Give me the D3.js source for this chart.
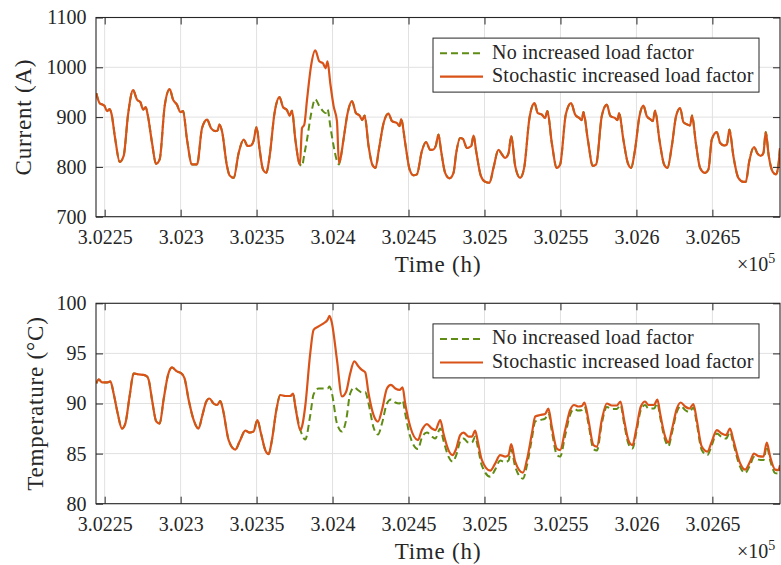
<!DOCTYPE html>
<html>
<head>
<meta charset="utf-8">
<script src="https://cdn.jsdelivr.net/npm/d3@7"></script>
<style>
  html, body { margin: 0; padding: 0; background: #fff; }
  svg { display: block; }
  svg text { font-family: "Liberation Serif", "DejaVu Serif", serif; }
</style>
</head>
<body>
<svg id="chart" width="781" height="565"></svg>
<script>
// ---- data: conductor current (A) over time (h) ----
const timeCurrent = [
  302244.5, 302246.7, 302249.8, 302251.6, 302253.3, 302254.4, 302257.0, 302259.9, 302262.5, 302265.4,
  302268.7, 302271.3, 302273.5, 302275.3, 302277.0, 302278.3, 302281.2, 302283.8, 302286.2, 302289.5,
  302292.8, 302295.0, 302297.6, 302299.8, 302301.6, 302304.2, 302307.5, 302310.8, 302314.1, 302317.4,
  302320.0, 302322.8, 302324.3, 302325.5, 302327.2, 302330.5, 302332.2, 302334.9, 302338.2, 302341.5,
  302344.1, 302346.3, 302348.0, 302350.0, 302352.0, 302354.2, 302356.4, 302358.6, 302361.8, 302365.1,
  302367.4, 302370.0, 302371.7, 302373.3, 302375.5, 302378.5, 302379.9, 302381.4, 302383.2, 302385.8,
  302388.6, 302391.3, 302393.7, 302395.4, 302396.7, 302398.5, 302400.7, 302402.9, 302404.2, 302405.1,
  302407.2, 302409.9, 302412.8, 302415.4, 302417.8, 302419.5, 302421.1, 302423.7, 302426.1, 302428.3,
  302430.5, 302433.6, 302436.8, 302439.1, 302442.4, 302444.1, 302445.2, 302447.8, 302450.7, 302453.3,
  302455.5, 302458.8, 302461.6, 302464.3, 302466.4, 302468.0, 302469.7, 302471.3, 302474.1, 302477.0,
  302479.6, 302481.4, 302484.0, 302485.8, 302488.4, 302491.3, 302492.8, 302494.5, 302497.6, 302500.5,
  302503.3, 302505.9, 302509.2, 302511.5, 302513.6, 302515.8, 302517.6, 302520.2, 302523.5, 302526.1,
  302529.6, 302532.9, 302535.1, 302537.8, 302539.9, 302541.4, 302544.3, 302547.6, 302549.8, 302553.5,
  302557.0, 302559.7, 302562.5, 302564.1, 302565.1, 302568.0, 302571.3, 302573.5, 302577.2, 302580.5,
  302582.9, 302586.0, 302587.5, 302588.6, 302591.4, 302594.3, 302596.5, 302599.1, 302602.0, 302604.6,
  302606.8, 302609.0, 302610.8, 302612.3, 302615.1, 302618.2, 302620.4, 302623.3, 302626.1, 302628.8,
  302630.9, 302633.6, 302635.3, 302636.6, 302639.1, 302641.9, 302645.2, 302647.4, 302649.6, 302652.9,
  302655.1, 302657.7, 302659.5, 302661.2, 302663.8, 302667.1, 302670.4, 302672.0, 302674.3, 302677.4,
  302679.6, 302681.8, 302683.6, 302685.1, 302687.1, 302689.7, 302691.9, 302693.4, 302694.5
];
const currentNoIncrease = [
  948, 928, 923, 912, 916, 908, 855, 810, 822, 905,
  954, 935, 930, 915, 920, 905, 848, 806, 815, 922,
  956, 935, 925, 910, 912, 855, 805, 805, 878, 895,
  878, 872, 873, 885, 872, 802, 783, 778, 828, 855,
  842, 843, 852, 880, 835, 795, 788, 822, 908, 940,
  920, 914, 903, 913, 855, 805, 802, 825, 855, 905,
  936, 922, 912, 908, 916, 882, 842, 812, 805, 815,
  855, 908, 932, 908, 903, 894, 903, 842, 805, 798,
  835, 888, 907, 892, 888, 882, 896, 848, 795, 783,
  785, 832, 850, 834, 835, 843, 865, 835, 788, 777,
  788, 828, 858, 856, 838, 842, 863, 832, 782, 770,
  768, 798, 834, 825, 818, 827, 862, 802, 778, 798,
  898, 928, 908, 905, 898, 912, 848, 798, 805, 905,
  928, 905, 898, 894, 910, 855, 802, 805, 902, 925,
  902, 898, 894, 908, 855, 808, 798, 835, 902, 923,
  902, 896, 892, 913, 855, 805, 798, 842, 902, 918,
  890, 885, 883, 903, 848, 798, 788, 795, 855, 870,
  848, 843, 845, 875, 822, 778, 770, 770, 812, 840,
  827, 822, 828, 870, 822, 790, 785, 802, 838
];
const currentStochastic = [
  948, 928, 923, 912, 916, 908, 855, 810, 822, 905,
  954, 935, 930, 915, 920, 905, 848, 806, 815, 922,
  956, 935, 925, 910, 912, 855, 805, 805, 878, 895,
  878, 872, 873, 885, 872, 802, 783, 778, 828, 855,
  842, 843, 852, 880, 835, 795, 788, 822, 908, 940,
  920, 914, 903, 913, 855, 805, 878, 885, 935, 1002,
  1034, 1012, 1008, 998, 1012, 968, 922, 892, 808, 815,
  855, 908, 932, 908, 903, 894, 903, 842, 805, 798,
  835, 888, 907, 892, 888, 882, 896, 848, 795, 783,
  785, 832, 850, 834, 835, 843, 865, 835, 788, 777,
  788, 828, 858, 856, 838, 842, 863, 832, 782, 770,
  768, 798, 834, 825, 818, 827, 862, 802, 778, 798,
  898, 928, 908, 905, 898, 912, 848, 798, 805, 905,
  928, 905, 898, 894, 910, 855, 802, 805, 902, 925,
  902, 898, 894, 908, 855, 808, 798, 835, 902, 923,
  902, 896, 892, 913, 855, 805, 798, 842, 902, 918,
  890, 885, 883, 903, 848, 798, 788, 795, 855, 870,
  848, 843, 845, 875, 822, 778, 770, 770, 812, 840,
  827, 822, 828, 870, 822, 790, 785, 802, 838
];

// ---- data: conductor temperature (°C) over time (h) ----
const timeTemperature = [
  302244.5, 302246.1, 302248.3, 302251.6, 302253.8, 302255.9, 302258.6, 302261.4, 302263.6, 302266.4,
  302269.1, 302272.4, 302275.7, 302277.9, 302279.0, 302281.2, 302284.0, 302286.2, 302288.8, 302291.7,
  302294.3, 302297.6, 302300.9, 302302.6, 302305.3, 302308.6, 302311.8, 302314.1, 302316.9, 302318.9,
  302321.7, 302324.0, 302326.1, 302327.9, 302331.6, 302336.0, 302338.8, 302342.6, 302345.4, 302348.0,
  302350.5, 302352.9, 302355.7, 302357.9, 302360.1, 302363.0, 302365.6, 302368.9, 302372.2, 302374.0,
  302375.5, 302378.8, 302379.9, 302382.0, 302385.3, 302387.5, 302390.8, 302394.1, 302396.7, 302398.0,
  302399.6, 302402.9, 302406.2, 302409.0, 302411.6, 302414.3, 302417.1, 302419.3, 302421.5, 302423.7,
  302427.0, 302429.9, 302432.5, 302435.8, 302438.4, 302441.3, 302444.1, 302446.1, 302447.8, 302451.1,
  302456.2, 302458.8, 302462.1, 302465.4, 302467.6, 302470.9, 302473.0, 302476.3, 302479.0, 302481.4,
  302484.0, 302486.2, 302489.5, 302491.7, 302493.9, 302495.4, 302498.3, 302503.8, 302507.0, 302510.3,
  302513.6, 302515.8, 302517.6, 302520.2, 302525.3, 302527.9, 302531.2, 302533.4, 302536.6, 302539.9,
  302542.1, 302544.3, 302547.6, 302549.8, 302553.1, 302556.4, 302559.0, 302561.8, 302564.1, 302565.8,
  302568.4, 302571.7, 302574.0, 302577.2, 302580.5, 302583.8, 302587.1, 302589.5, 302591.9, 302594.7,
  302597.4, 302599.8, 302602.9, 302605.7, 302607.9, 302611.6, 302613.8, 302615.6, 302618.9, 302621.1,
  302623.3, 302626.6, 302629.2, 302632.0, 302634.9, 302637.5, 302639.7, 302643.0, 302646.7, 302649.6,
  302652.9, 302656.2, 302659.0, 302661.6, 302663.8, 302667.8, 302671.5, 302674.8, 302677.4, 302680.3,
  302683.6, 302685.8, 302688.0, 302691.3, 302693.4, 302694.5
];
const tempNoIncrease = [
  92.0, 92.4, 92.1, 92.1, 92.2, 91.0, 89.0, 87.5, 88.0, 90.7,
  93.0, 92.9, 92.85, 92.7, 92.35, 90.35, 88.2, 88.0, 90.4, 92.85,
  93.6, 93.2, 92.95, 92.5, 90.35, 88.35, 87.5, 88.7, 90.2, 90.5,
  90.0, 89.85, 90.25, 89.35, 86.35, 85.4, 86.2, 87.3, 87.1, 87.2,
  88.35, 87.0, 85.35, 84.95, 86.35, 89.35, 90.85, 90.75, 90.75, 91.0,
  89.7, 87.35, 86.9, 86.4, 88.8, 90.9, 91.5, 91.5, 91.5, 91.7,
  91.0, 88.0, 87.2, 88.4, 91.0, 91.6, 91.3, 91.1, 91.15, 90.0,
  87.6, 86.9, 88.0, 90.0, 90.4, 90.1, 90.0, 90.3, 89.0, 86.7,
  85.45, 86.6, 87.1, 86.7, 86.5, 87.5, 86.3, 84.7, 84.2, 84.85,
  86.2, 86.5, 86.1, 86.1, 86.7, 85.8, 83.8, 82.7, 83.4, 84.3,
  84.15, 84.3, 85.4, 83.7, 82.5, 83.8, 86.5, 88.2, 88.35, 88.5,
  89.05, 87.25, 84.9, 84.7, 86.8, 88.9, 89.45, 89.3, 89.35, 89.7,
  88.0, 85.45, 85.3, 88.0, 89.65, 89.45, 89.45, 89.85, 88.0, 86.0,
  85.5, 87.0, 89.35, 89.85, 89.5, 89.5, 90.05, 88.65, 86.35, 85.75,
  87.0, 89.15, 89.75, 89.35, 89.15, 89.6, 88.0, 85.35, 84.85, 85.85,
  87.0, 86.65, 86.5, 87.15, 86.0, 83.85, 83.05, 83.85, 84.65, 84.4,
  84.35, 85.75, 84.35, 83.05, 83.0, 83.5
];
const tempStochastic = [
  92.0, 92.4, 92.1, 92.1, 92.2, 91.0, 89.0, 87.5, 88.0, 90.7,
  93.0, 92.9, 92.85, 92.7, 92.35, 90.35, 88.2, 88.0, 90.4, 92.85,
  93.6, 93.2, 92.95, 92.5, 90.35, 88.35, 87.5, 88.7, 90.2, 90.5,
  90.0, 89.85, 90.25, 89.35, 86.35, 85.4, 86.2, 87.3, 87.1, 87.2,
  88.35, 87.0, 85.35, 84.95, 86.35, 89.35, 90.85, 90.75, 90.75, 91.0,
  89.7, 87.35, 87.7, 89.7, 95.0, 97.35, 97.7, 98.0, 98.35, 98.75,
  98.0, 94.35, 90.7, 91.2, 93.0, 94.2, 93.7, 93.35, 93.1, 91.0,
  88.85, 88.2, 89.35, 91.5, 91.85, 91.5, 91.35, 91.6, 90.0, 87.7,
  86.35, 87.35, 87.95, 87.5, 87.35, 88.35, 87.0, 85.35, 84.85, 85.5,
  86.85, 87.1, 86.7, 86.7, 87.3, 86.35, 84.35, 83.3, 84.0, 84.85,
  84.7, 84.85, 85.95, 84.2, 83.1, 84.35, 87.0, 88.7, 88.85, 88.95,
  89.5, 87.7, 85.5, 85.35, 87.35, 89.35, 89.85, 89.7, 89.75, 90.1,
  88.35, 85.85, 85.7, 88.35, 90.0, 89.8, 89.8, 90.2, 88.35, 86.35,
  85.85, 87.35, 89.7, 90.2, 89.85, 89.85, 90.4, 89.0, 86.7, 86.1,
  87.35, 89.5, 90.1, 89.7, 89.5, 89.95, 88.35, 85.7, 85.2, 86.2,
  87.35, 87.0, 86.85, 87.5, 86.35, 84.2, 83.4, 84.2, 85.0, 84.75,
  84.7, 86.1, 84.7, 83.4, 83.35, 83.85
];

// ---- axis ticks and labels ----
const timeTicks = [302250, 302300, 302350, 302400, 302450, 302500, 302550, 302600, 302650];
const timeTickLabels = ["3.0225", "3.023", "3.0235", "3.024", "3.0245", "3.025", "3.0255", "3.026", "3.0265"];
const currentTicks = [700, 800, 900, 1000, 1100];
const tempTicks = [80, 85, 90, 95, 100];
const seriesNames = ["No increased load factor", "Stochastic increased load factor"];

const GREEN = "#5f8c14";
const ORANGE = "#D95319";
const INK = "#262626";
const GRID = "#e1e1e1";
const SERIF = "'Liberation Serif', 'DejaVu Serif', serif";

const svg = d3.select("#chart").attr("font-family", SERIF);
const defs = svg.append("defs");

const X0 = 96, X1 = 780;
const x = d3.scaleLinear().domain([302244.3, 302694.5]).range([X0, X1]);

function drawPanel(p) {
  const g = svg.append("g");
  const y = d3.scaleLinear().domain(p.domain).range([p.bottom, p.top]);

  // grid
  g.append("g").selectAll("line").data(timeTicks).join("line")
    .attr("x1", d => x(d)).attr("x2", d => x(d))
    .attr("y1", p.top).attr("y2", p.bottom)
    .attr("stroke", GRID).attr("stroke-width", 1);
  g.append("g").selectAll("line").data(p.ticks).join("line")
    .attr("x1", X0).attr("x2", X1)
    .attr("y1", d => y(d)).attr("y2", d => y(d))
    .attr("stroke", GRID).attr("stroke-width", 1);

  // series
  const clipId = "clip-" + p.key;
  defs.append("clipPath").attr("id", clipId).append("rect")
    .attr("x", X0).attr("y", p.top).attr("width", X1 - X0).attr("height", p.bottom - p.top);
  const line = d3.line().x(d => x(d[0])).y(d => y(d[1])).curve(d3.curveMonotoneX);
  const plot = g.append("g").attr("clip-path", `url(#${clipId})`);
  plot.append("path").datum(d3.zip(p.times, p.base))
    .attr("d", line).attr("fill", "none")
    .attr("stroke", GREEN).attr("stroke-width", 2).attr("stroke-dasharray", "7,4");
  plot.append("path").datum(d3.zip(p.times, p.stoch))
    .attr("d", line).attr("fill", "none")
    .attr("stroke", ORANGE).attr("stroke-width", 2.2).attr("stroke-linejoin", "round");

  // axes with inward ticks on all four sides
  const style = sel => {
    sel.attr("font-family", SERIF).attr("font-size", 20);
    sel.select(".domain").remove();
    sel.selectAll(".tick line").attr("stroke", INK).attr("stroke-width", 1);
    sel.selectAll(".tick text").attr("fill", INK).attr("font-family", SERIF).attr("font-size", 20);
  };
  g.append("g").attr("transform", `translate(0,${p.bottom})`)
    .call(d3.axisBottom(x).tickValues(timeTicks).tickFormat((d, i) => timeTickLabels[i])
      .tickSizeInner(-7).tickSizeOuter(0).tickPadding(13)).call(style);
  g.append("g").attr("transform", `translate(0,${p.top})`)
    .call(d3.axisTop(x).tickValues(timeTicks).tickFormat("")
      .tickSizeInner(-7).tickSizeOuter(0)).call(style);
  g.append("g").attr("transform", `translate(${X0},0)`)
    .call(d3.axisLeft(y).tickValues(p.ticks).tickFormat(d3.format("d"))
      .tickSizeInner(-7).tickSizeOuter(0).tickPadding(9.5)).call(style);
  g.append("g").attr("transform", `translate(${X1},0)`)
    .call(d3.axisRight(y).tickValues(p.ticks).tickFormat("")
      .tickSizeInner(-7).tickSizeOuter(0)).call(style);

  // box
  g.append("rect").attr("x", X0).attr("y", p.top)
    .attr("width", X1 - X0).attr("height", p.bottom - p.top)
    .attr("fill", "none").attr("stroke", INK).attr("stroke-width", 1.1);

  // axis titles
  g.append("text").attr("x", (X0 + X1) / 2).attr("y", p.bottom + 55)
    .attr("text-anchor", "middle").attr("fill", INK)
    .attr("font-family", SERIF).attr("font-size", 23).style("letter-spacing", "0.8px")
    .text("Time (h)");
  const exp = g.append("text").attr("x", 737).attr("y", p.bottom + 54)
    .attr("fill", INK).attr("font-family", SERIF).attr("font-size", 20);
  exp.append("tspan").text("×10");
  exp.append("tspan").attr("dy", -8).attr("font-size", 14).text("5");

  g.append("text")
    .attr("transform", `translate(${p.labelX},${(p.top + p.bottom) / 2}) rotate(-90)`)
    .attr("text-anchor", "middle").attr("fill", INK)
    .attr("font-family", SERIF).attr("font-size", 23).style("letter-spacing", "0.8px")
    .text(p.yLabel);

  // legend
  const lg = g.append("g").attr("transform", `translate(433,${p.top + 20.6})`);
  lg.append("rect").attr("width", 326).attr("height", 54)
    .attr("fill", "#fff").attr("stroke", INK).attr("stroke-width", 1);
  const rows = [
    { name: seriesNames[0], color: GREEN, dash: "7,4", w: 2 },
    { name: seriesNames[1], color: ORANGE, dash: null, w: 2.2 }
  ];
  rows.forEach((r, i) => {
    const cy = 15.2 + i * 23.4;
    lg.append("line").attr("x1", 7).attr("x2", 50).attr("y1", cy).attr("y2", cy)
      .attr("stroke", r.color).attr("stroke-width", r.w)
      .attr("stroke-dasharray", r.dash);
    lg.append("text").attr("x", 59).attr("y", cy + 5.3).attr("fill", INK)
      .attr("font-family", SERIF).attr("font-size", 20).style("letter-spacing", "0.25px")
      .text(r.name);
  });
}

drawPanel({
  key: "current", top: 17.5, bottom: 216.7, domain: [700, 1100], ticks: currentTicks,
  yLabel: "Current (A)", labelX: 31,
  times: timeCurrent, base: currentNoIncrease, stoch: currentStochastic
});
drawPanel({
  key: "temperature", top: 303.3, bottom: 503.7, domain: [80, 100], ticks: tempTicks,
  yLabel: "Temperature (°C)", labelX: 43,
  times: timeTemperature, base: tempNoIncrease, stoch: tempStochastic
});
</script>
</body>
</html>
